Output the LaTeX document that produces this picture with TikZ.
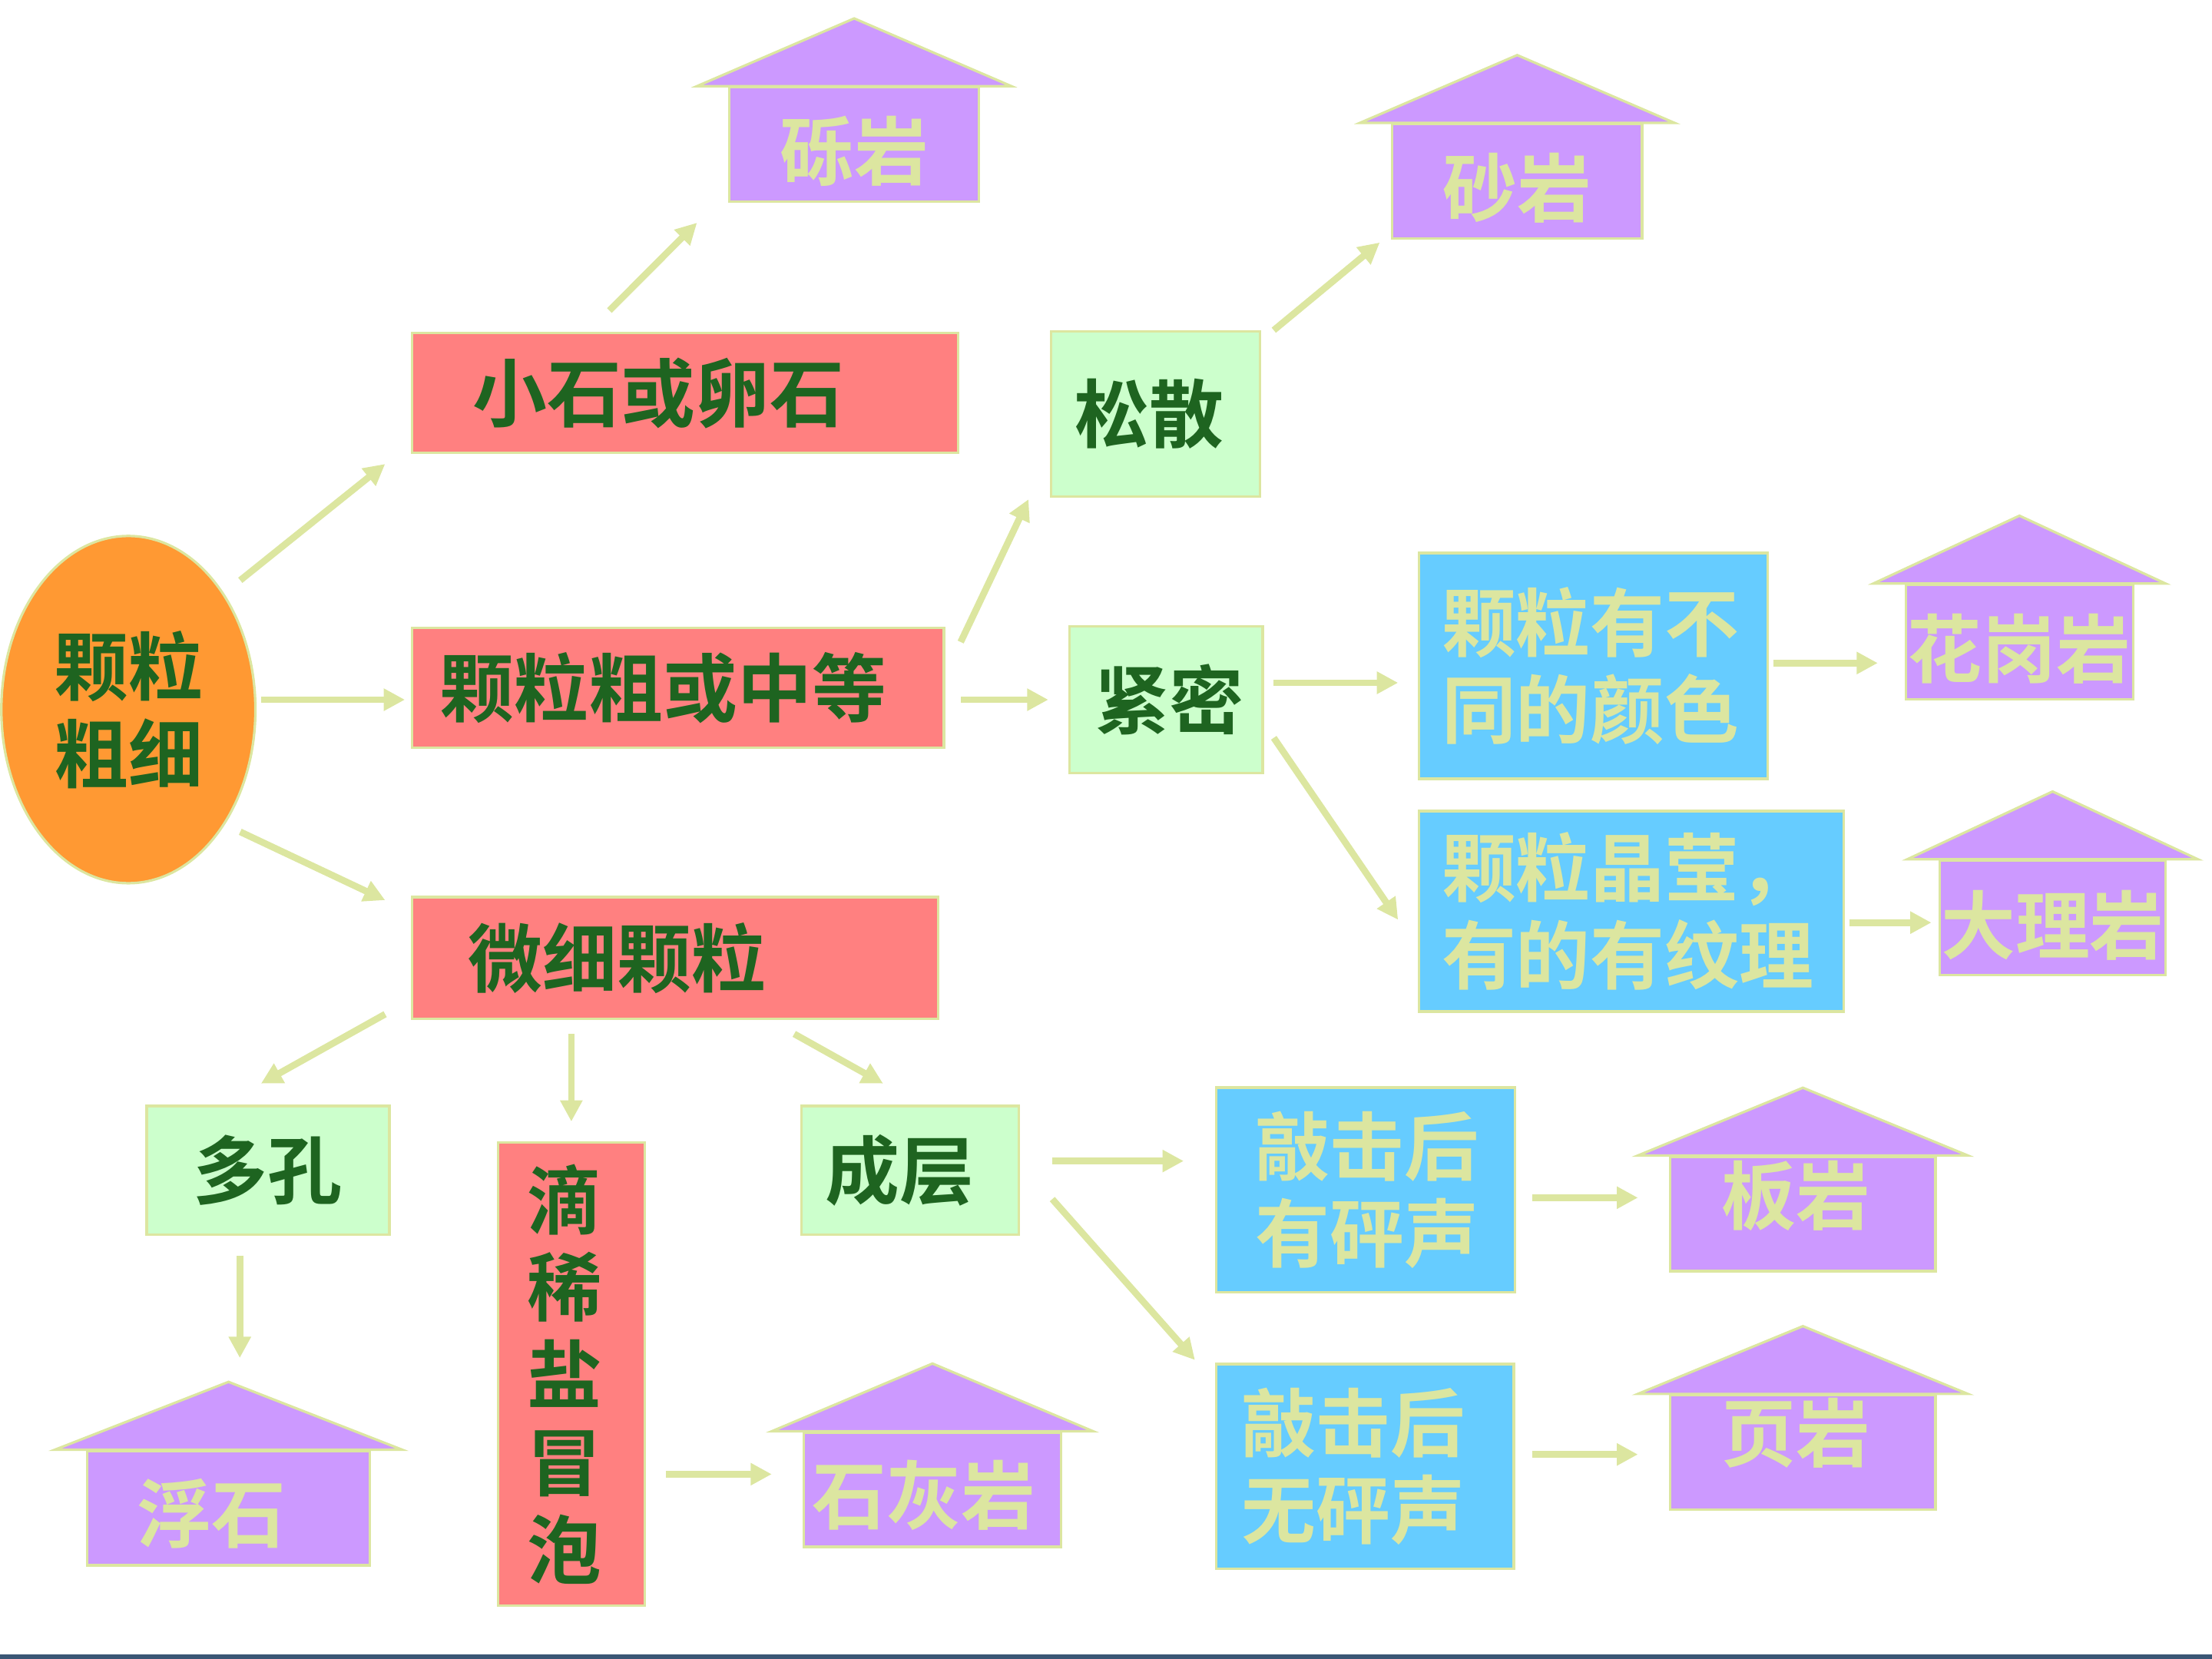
\documentclass[tikz,border=0pt]{standalone}
\usepackage{fontspec}
\usepackage{tikz}
\usetikzlibrary{arrows.meta,shapes.geometric}
\newfontfamily\cjk{Noto Sans CJK SC}[UprightFont=* Bold]
\definecolor{rockpurple}{HTML}{CC99FF}
\definecolor{boxred}{HTML}{FF8080}
\definecolor{boxgreen}{HTML}{CCFFCC}
\definecolor{boxblue}{HTML}{66CCFF}
\definecolor{eggorange}{HTML}{FF9933}
\definecolor{darkleaf}{HTML}{1E6420}
\definecolor{paleline}{HTML}{DCE6A0}
\definecolor{slatebar}{HTML}{3B5675}

\begin{document}
\begin{tikzpicture}[x=0.01cm, y=-0.01cm,
  every node/.style={font=\cjk\fontsize{15}{17.6}\selectfont},
  box/.style={rectangle, draw=paleline, line width=0.5pt, inner ysep=0pt, align=left},
  redbox/.style={box, fill=boxred, text=darkleaf},
  greenbox/.style={box, fill=boxgreen, text=darkleaf},
  bluebox/.style={box, fill=boxblue, text=paleline},
  rock/.style={rectangle, draw=paleline, line width=0.5pt, fill=rockpurple, text=paleline, inner sep=0pt, minimum height=0.81cm},
  roof/.style={draw=paleline, line width=0.5pt, fill=rockpurple, line join=miter},
  arr/.style={draw=paleline, line width=1.35pt, -{Triangle[length=0.15cm,width=0.15cm]}}]
  \useasboundingbox (0,0) rectangle (1568,1176);
  \fill[slatebar] (0,1172.5) rectangle (1568,1176);

  \node[ellipse, draw=paleline, line width=0.5pt, fill=eggorange, text=darkleaf, minimum width=1.8cm, minimum height=2.46cm, inner sep=0pt, align=center] (size) at (91,503) {颗粒\\粗细};

  \node[redbox, minimum width=3.87cm, minimum height=0.85cm, text width=3.01cm, inner xsep=0.43cm] (xiaoshi) at (485.5,278.5) {小石或卵石};
  \node[redbox, minimum width=3.77cm, minimum height=0.85cm, text width=3.37cm, inner xsep=0.20cm] (cuzhong) at (480.5,487.5) {颗粒粗或中等};
  \node[redbox, minimum width=3.73cm, minimum height=0.86cm, text width=2.93cm, inner xsep=0.40cm] (weixi) at (478.5,679) {微细颗粒};

  \node[greenbox, minimum width=1.48cm, minimum height=1.17cm, text width=1.14cm, inner xsep=0.17cm] (songsan) at (819,293.5) {松散};
  \node[greenbox, minimum width=1.37cm, minimum height=1.04cm, text width=1.01cm, inner xsep=0.18cm] (jinmi) at (826.5,496) {紧密};

  \node[bluebox, minimum width=2.47cm, minimum height=1.60cm, text width=2.15cm, inner xsep=0.16cm] (yanse) at (1129.5,472) {颗粒有不\\同的颜色};
  \node[bluebox, minimum width=3.01cm, minimum height=1.42cm, text width=2.69cm, inner xsep=0.16cm] (jingying) at (1156.5,646) {颗粒晶莹，\\有的有纹理};

  \node[greenbox, minimum width=1.72cm, minimum height=0.91cm, text width=1.06cm, inner xsep=0.33cm] (duokong) at (190,829.5) {多孔};
  \node[redbox, minimum width=1.04cm, minimum height=3.28cm, text width=0.62cm, inner xsep=0.21cm] (dixi) at (405,974) {滴\\稀\\盐\\冒\\泡};
  \node[greenbox, minimum width=1.54cm, minimum height=0.91cm, text width=1.20cm, inner xsep=0.17cm] (chengceng) at (645,829.5) {成层};

  \node[bluebox, minimum width=2.12cm, minimum height=1.45cm, text width=1.56cm, inner xsep=0.28cm] (youpeng) at (968,843.5) {敲击后\\有砰声};
  \node[bluebox, minimum width=2.11cm, minimum height=1.45cm, text width=1.75cm, inner xsep=0.18cm] (wupeng) at (967.5,1039.5) {敲击后\\无砰声};

  \foreach \n/\x/\y/\w/\l/\k/\t in {liyan/605.5/102.5/1.77/-0.245/0/砾岩, shayan/1075.5/128.5/1.77/-0.245/0/砂岩,
      huagang/1431.5/455/1.61/-0.25/0/花岗岩, dali/1455/650.5/1.60/-0.255/0/大理岩,
      banyan/1278/860.5/1.88/-0.07/0.1/板岩, yeyan/1278/1029.5/1.88/-0.065/0.1/页岩,
      fushi/162/1069/2.00/-0.24/0.24/浮石, shihui/661/1056/1.82/-0.24/0.12/石灰岩}
  {
    \node[rock, minimum width=\w cm] (\n) at (\x,\y) {\raisebox{\l cm}[0pt][0pt]{\t}\hspace*{\k cm}};
    \draw[roof] ([xshift=-0.22cm]\n.north west) -- ([xshift=0.22cm]\n.north east) -- ([yshift=0.48cm]\n.north) -- cycle;
  }

  \draw[arr] ([shift={(15,-4)}]size.north east) -- ([shift={(-18,7)}]xiaoshi.south west);
  \draw[arr] ([shift={(3,-7)}]size.east) -- ([shift={(-4,8.5)}]cuzhong.west);
  \draw[arr] ([shift={(15,-1)}]size.south east) -- ([shift={(-18,3)}]weixi.north west);
  \draw[arr] ([shift={(-53.5,-15)}]xiaoshi.north) -- ([shift={(-22,14)}]liyan.south west);
  \draw[arr] ([shift={(11,11)}]cuzhong.north east) -- ([shift={(-15,1)}]songsan.south west);
  \draw[arr] ([shift={(11,8.5)}]cuzhong.east) -- ([shift={(-14,0)}]jinmi.west);
  \draw[arr] ([shift={(9,0)}]songsan.north east) -- ([shift={(-8,2)}]shayan.south west);
  \draw[arr] ([shift={(7,-12)}]jinmi.east) -- ([shift={(-14,12)}]yanse.west);
  \draw[arr] ([shift={(7,27)}]jinmi.east) -- ([shift={(-14,6)}]jingying.west);
  \draw[arr] ([shift={(3,-2)}]yanse.east) -- ([shift={(-19,15)}]huagang.west);
  \draw[arr] ([shift={(3,8)}]jingying.east) -- ([shift={(-5,3.5)}]dali.west);
  \draw[arr] ([shift={(-18,-4)}]weixi.south west) -- ([shift={(-5,-15)}]duokong.north);
  \draw[arr, shorten <=0.1cm, shorten >=0.14cm] (dixi.north |- weixi.south) -- (dixi.north);
  \draw[arr] ([shift={(-103,10)}]weixi.south east) -- ([shift={(-19,-15)}]chengceng.north);
  \draw[arr] ([shift={(-20,14)}]duokong.south) -- ([shift={(8,-65)}]fushi.north);
  \draw[arr] ([shift={(14,71)}]dixi.east) -- ([shift={(-22,-11)}]shihui.west);
  \draw[arr] ([shift={(23,-6.5)}]chengceng.east) -- ([shift={(-22,-20.5)}]youpeng.west);
  \draw[arr] ([shift={(23,20.5)}]chengceng.east) -- ([shift={(-14,-2)}]wupeng.north west);
  \draw[arr] ([shift={(11,5.5)}]youpeng.east) -- ([shift={(-22,-11.5)}]banyan.west);
  \draw[arr] ([shift={(12,-8.5)}]wupeng.east) -- ([shift={(-22,1.5)}]yeyan.west);
\end{tikzpicture}
\end{document}
